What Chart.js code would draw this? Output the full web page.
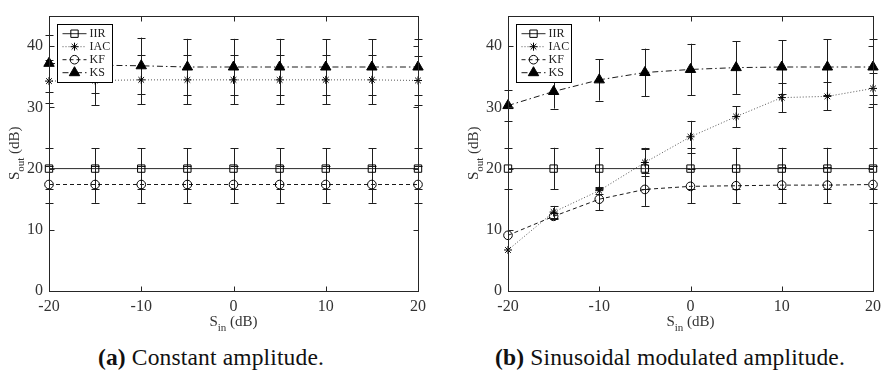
<!DOCTYPE html>
<html><head><meta charset="utf-8">
<script src="https://cdn.jsdelivr.net/npm/chart.js@4.4.0/dist/chart.umd.min.js"></script>
<style>
body{margin:0;background:#fff;width:887px;height:376px;overflow:hidden;position:relative;font-family:'Liberation Serif',serif}
.p{position:absolute;top:0;height:340px}
.cap{position:absolute;top:344px;font-size:23.5px;letter-spacing:0.15px;line-height:26px;white-space:nowrap;color:#111;transform:translateX(-50%)}
</style></head><body>
<div class="p" style="left:0;width:443px"><canvas id="c1"></canvas></div>
<div class="p" style="left:443px;width:444px"><canvas id="c2"></canvas></div>
<div class="cap" style="left:211px"><b>(a)</b> Constant amplitude.</div>
<div class="cap" style="left:670px"><b>(b)</b> Sinusoidal modulated amplitude.</div>
<script>
// ---- data ----
const sIn = [-20, -15, -10, -5, 0, 5, 10, 15, 20];
const xTicks = [-20, -10, 0, 10, 20];
const yTicks = [0, 10, 20, 30, 40];
const seriesNames = ['IIR', 'IAC', 'KF', 'KS'];

// (a) constant amplitude
const constIIR    = [20, 20, 20, 20, 20, 20, 20, 20, 20];
const constIIRErr = [3.3, 3.3, 3.3, 3.3, 3.3, 3.3, 3.3, 3.3, 3.3];
const constIAC    = [34.3, 34.4, 34.5, 34.5, 34.5, 34.5, 34.5, 34.5, 34.4];
const constIACErr = [3.5, 4.0, 4.0, 4.0, 4.0, 4.0, 4.0, 4.0, 4.0];
const constKF     = [17.4, 17.4, 17.4, 17.4, 17.4, 17.4, 17.4, 17.4, 17.4];
const constKFErr  = [3.0, 3.0, 3.0, 3.0, 3.0, 3.0, 3.0, 3.0, 3.0];
const constKS     = [37.2, 36.9, 36.8, 36.6, 36.6, 36.6, 36.6, 36.6, 36.6];
const constKSErr  = [4.7, 4.6, 4.6, 4.6, 4.6, 4.6, 4.5, 4.5, 4.5];

// (b) sinusoidal modulated amplitude
const sinIIR    = [20, 20, 20, 20, 20, 20, 20, 20, 20];
const sinIIRErr = [3.4, 3.4, 3.4, 3.4, 3.4, 3.4, 3.4, 3.4, 3.4];
const sinIAC    = [6.7, 12.9, 16.4, 21.0, 25.2, 28.5, 31.6, 31.8, 33.1];
const sinIACErr = [0, 1.0, 0.6, 2.2, 2.6, 1.7, 2.4, 2.3, 2.5];
const sinKF     = [9.1, 12.2, 15.0, 16.6, 17.1, 17.2, 17.3, 17.3, 17.4];
const sinKFErr  = [0, 0.5, 1.8, 2.7, 2.8, 2.9, 3.0, 3.0, 3.0];
const sinKS     = [30.3, 32.6, 34.5, 35.7, 36.2, 36.5, 36.6, 36.6, 36.6];
const sinKSErr  = [2.5, 2.8, 3.4, 3.9, 4.2, 4.3, 4.4, 4.5, 4.6];

// ---- styles ----
const styles = [
  {pointStyle:'rect', radius:5.2, dash:[], color:'#2a2a2a', fill:false},
  {pointStyle:'star', radius:4, dash:[1,2], color:'#555', fill:false},
  {pointStyle:'circle', radius:4.3, dash:[4,3], color:'#1a1a1a', fill:false},
  {pointStyle:'triangle', radius:6, dash:[6,3,1.5,3], color:'#1a1a1a', fill:true}
];
const FONT = 'Liberation Serif';

function mkDatasets(vals, errs){
  return vals.map((v,k)=>{
    const st = styles[k];
    return {
      label: seriesNames[k],
      data: v.map((y,i)=>({x:sIn[i], y:y})),
      errorBars: errs[k],
      borderColor: st.color, borderWidth: 1, borderDash: st.dash,
      pointStyle: st.pointStyle, pointRadius: st.radius, pointHoverRadius: st.radius,
      pointBorderColor: '#000', pointBackgroundColor: st.fill ? '#000' : 'rgba(0,0,0,0)',
      pointBorderWidth: 1, tension: 0, fill: false, clip: false,
      _fillMarker: st.fill
    };
  });
}

const errPlugin = {
  id: 'errbars',
  beforeDatasetsDraw(chart){
    const ctx = chart.ctx, xs = chart.scales.x, ys = chart.scales.y;
    ctx.save();
    ctx.strokeStyle = '#1e1e1e'; ctx.lineWidth = 1; ctx.setLineDash([]);
    chart.data.datasets.forEach(ds=>{
      ds.data.forEach((p,i)=>{
        const e = ds.errorBars[i];
        if(!e) return;
        const x = Math.round(xs.getPixelForValue(p.x)) + 0.5;
        const y1 = ys.getPixelForValue(p.y + e), y2 = ys.getPixelForValue(p.y - e);
        ctx.beginPath();
        ctx.moveTo(x, y1); ctx.lineTo(x, y2);
        ctx.moveTo(x-4, Math.round(y1)+0.5); ctx.lineTo(x+4, Math.round(y1)+0.5);
        ctx.moveTo(x-4, Math.round(y2)+0.5); ctx.lineTo(x+4, Math.round(y2)+0.5);
        ctx.stroke();
      });
    });
    ctx.restore();
  }
};

function drawTitle(ctx, cx, cy, rot, sub){
  ctx.save(); ctx.translate(cx, cy); ctx.rotate(rot);
  const fM = '15px "' + FONT + '"', fS = '11px "' + FONT + '"';
  ctx.font = fM; const wS = ctx.measureText('S').width; const wR = ctx.measureText(' (dB)').width;
  ctx.font = fS; const wSub = ctx.measureText(sub).width;
  let x = -(wS + wSub + wR)/2;
  ctx.textBaseline = 'alphabetic'; ctx.textAlign = 'left'; ctx.fillStyle = '#333';
  ctx.font = fM; ctx.fillText('S', x, 4); x += wS;
  ctx.font = fS; ctx.fillText(sub, x, 9); x += wSub;
  ctx.font = fM; ctx.fillText(' (dB)', x, 4);
  ctx.restore();
}

const boxPlugin = {
  id: 'mbox',
  afterDatasetsDraw(chart){
    const ctx = chart.ctx, a = chart.chartArea, xs = chart.scales.x, ys = chart.scales.y;
    const L = Math.round(a.left)+0.5, R = Math.round(a.right)+0.5, T = Math.round(a.top)+0.5, B = Math.round(a.bottom)+0.5;
    ctx.save();
    ctx.strokeStyle = '#262626'; ctx.lineWidth = 1; ctx.setLineDash([]);
    ctx.strokeRect(L, T, R-L, B-T);
    ctx.beginPath();
    xTicks.forEach(v=>{ const x = Math.round(xs.getPixelForValue(v))+0.5;
      ctx.moveTo(x, B); ctx.lineTo(x, B-5); ctx.moveTo(x, T); ctx.lineTo(x, T+5); });
    yTicks.forEach(v=>{ const y = Math.round(ys.getPixelForValue(v))+0.5;
      ctx.moveTo(L, y); ctx.lineTo(L+5, y); ctx.moveTo(R, y); ctx.lineTo(R-5, y); });
    ctx.stroke();
    ctx.restore();
  },
  afterDraw(chart){
    const ctx = chart.ctx, a = chart.chartArea;
    // axis titles
    drawTitle(ctx, (a.left + a.right)/2, 322, 0, 'in');
    drawTitle(ctx, a.left - 34, (a.top + a.bottom)/2, -Math.PI/2, 'out');
    // legend
    const bx = Math.round(a.left)+8.5, by = Math.round(a.top)+8.5, bw = 55, bh = 58;
    ctx.save();
    ctx.fillStyle = '#fff'; ctx.fillRect(bx, by, bw, bh);
    ctx.strokeStyle = '#000'; ctx.lineWidth = 1; ctx.setLineDash([]); ctx.strokeRect(bx, by, bw, bh);
    chart.data.datasets.forEach((ds,k)=>{
      const y = by + 9.2 + k*13;
      ctx.save();
      ctx.strokeStyle = ds.borderColor; ctx.lineWidth = 1; ctx.setLineDash(ds.borderDash);
      ctx.beginPath(); ctx.moveTo(bx+5, y); ctx.lineTo(bx+29, y); ctx.stroke();
      ctx.setLineDash([]);
      ctx.strokeStyle = '#000'; ctx.fillStyle = ds._fillMarker ? '#000' : 'rgba(0,0,0,0)';
      Chart.helpers.drawPoint(ctx, {pointStyle: ds.pointStyle, radius: ds.pointRadius, rotation: 0, borderWidth: 1}, bx+17, y);
      ctx.restore();
      ctx.fillStyle = '#222'; ctx.font = '12px "' + FONT + '"'; ctx.textBaseline = 'middle'; ctx.textAlign = 'left';
      ctx.fillText(ds.label, bx+32, y+0.5);
    });
    ctx.restore();
  }
};

function mkChart(id, datasets, yW, padR){
  return new Chart(document.getElementById(id), {
    type: 'line',
    data: {datasets: datasets},
    plugins: [errPlugin, boxPlugin],
    options: {
      responsive: true, maintainAspectRatio: false, animation: false,
      layout: {padding: {top: 5, right: padR, left: 0, bottom: 0}},
      plugins: {legend: {display: false}, tooltip: {enabled: false}},
      scales: {
        x: {type: 'linear', min: -20, max: 20,
            afterBuildTicks: s => { s.ticks = xTicks.map(v => ({value: v})); },
            afterFit: s => { s.height = 49; },
            grid: {display: false, drawTicks: false}, border: {display: false},
            ticks: {padding: 6, color: '#333', maxRotation: 0, autoSkip: false, font: {family: FONT, size: 16}}},
        y: {type: 'linear', min: 0, max: 45,
            afterBuildTicks: s => { s.ticks = yTicks.map(v => ({value: v})); },
            afterFit: s => { s.width = yW; },
            grid: {display: false, drawTicks: false}, border: {display: false},
            ticks: {padding: 6, color: '#333', font: {family: FONT, size: 16}}}
      }
    }
  });
}

mkChart('c1', mkDatasets([constIIR, constIAC, constKF, constKS], [constIIRErr, constIACErr, constKFErr, constKSErr]), 49, 25);
mkChart('c2', mkDatasets([sinIIR, sinIAC, sinKF, sinKS], [sinIIRErr, sinIACErr, sinKFErr, sinKSErr]), 65, 9);
</script>
</body></html>
